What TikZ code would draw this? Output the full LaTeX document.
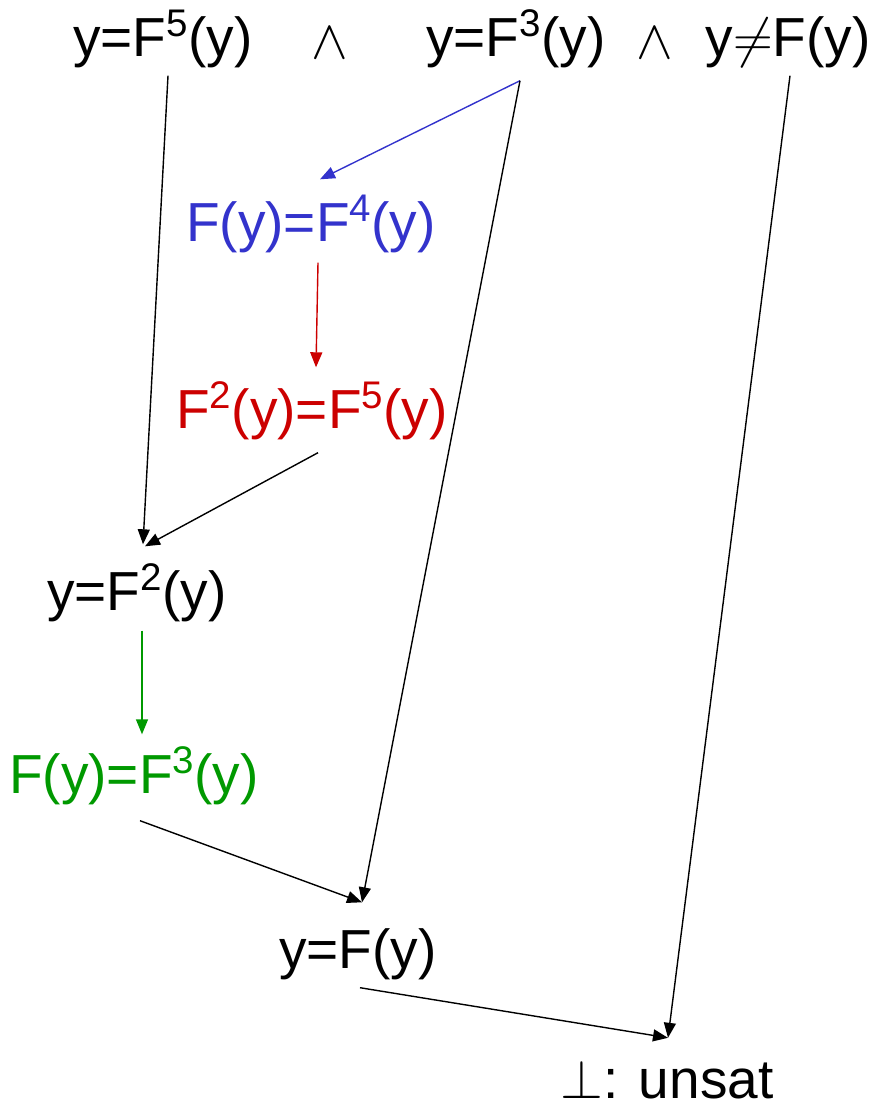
\RequirePackage{fix-cm}
\documentclass[tikz,border=0pt]{standalone}
\usepackage{fontspec}
\setmainfont{Liberation Sans}
\usetikzlibrary{arrows.meta}
\definecolor{eqblue}{RGB}{51,51,204}
\definecolor{eqred}{RGB}{204,0,0}
\definecolor{eqgreen}{RGB}{0,153,0}
\newcommand{\pw}[1]{\textsuperscript{#1}}
\tikzset{
  eq/.style={inner sep=0pt, text height=38pt, text depth=11pt, font=\fontsize{55}{62}\selectfont},
  link/.style={-{Triangle[length=15pt,width=12pt]}, line width=1.4pt},
}

\begin{document}
\begin{tikzpicture}[x=1pt,y=-1pt]
\useasboundingbox (0,0) rectangle (871,1104);
% hypotheses
\node[eq] (h1) at (163,43) {y=F\pw{5}(y)};
\node[eq] (and1) at (330,45) {$\wedge$};
\node[eq] (h2) at (516,43) {y=F\pw{3}(y)};
\node[eq] (and2) at (655,45) {$\wedge$};
\node[eq] (h3) at (788,43) {y$\neq$F(y)};
% derived equalities
\node[eq, eqblue] (cong) at (311,228) {F(y)=F\pw{4}(y)};
\node[eq, eqred] (cong2) at (312,415) {F\pw{2}(y)=F\pw{5}(y)};
\node[eq] (fix2) at (137,597) {y=F\pw{2}(y)};
\node[eq, eqgreen] (cong3) at (134,780) {F(y)=F\pw{3}(y)};
\node[eq] (fix1) at (358,955) {y=F(y)};
\node[eq, text depth=2pt, anchor=base] (unsat) at (667,1098) {$\perp$: unsat};
% inferences
\draw[link] ([shift={(5,8)}]h1.south) -- ([shift={(6,-28)}]fix2.north);
\draw[link, eqblue] ([shift={(4,13)}]h2.south) -- ([shift={(9,-24)}]cong.north);
\draw[link] ([shift={(4,13)}]h2.south) -- ([shift={(4,-28)}]fix1.north);
\draw[link] ([shift={(2,8)}]h3.south) -- ([shift={(1,-22)}]unsat.north);
\draw[link, eqred] ([shift={(7,10)}]cong.south) -- ([shift={(4,-23)}]cong2.north);
\draw[link] ([shift={(6,13)}]cong2.south) -- ([shift={(8,-26)}]fix2.north);
\draw[link, eqgreen] ([shift={(5,9)}]fix2.south) -- ([shift={(8,-21)}]cong3.north);
\draw[link] ([shift={(6,16)}]cong3.south) -- ([shift={(4,-28)}]fix1.north);
\draw[link] ([shift={(2,8)}]fix1.south) -- ([shift={(1,-22)}]unsat.north);
\end{tikzpicture}
\end{document}
